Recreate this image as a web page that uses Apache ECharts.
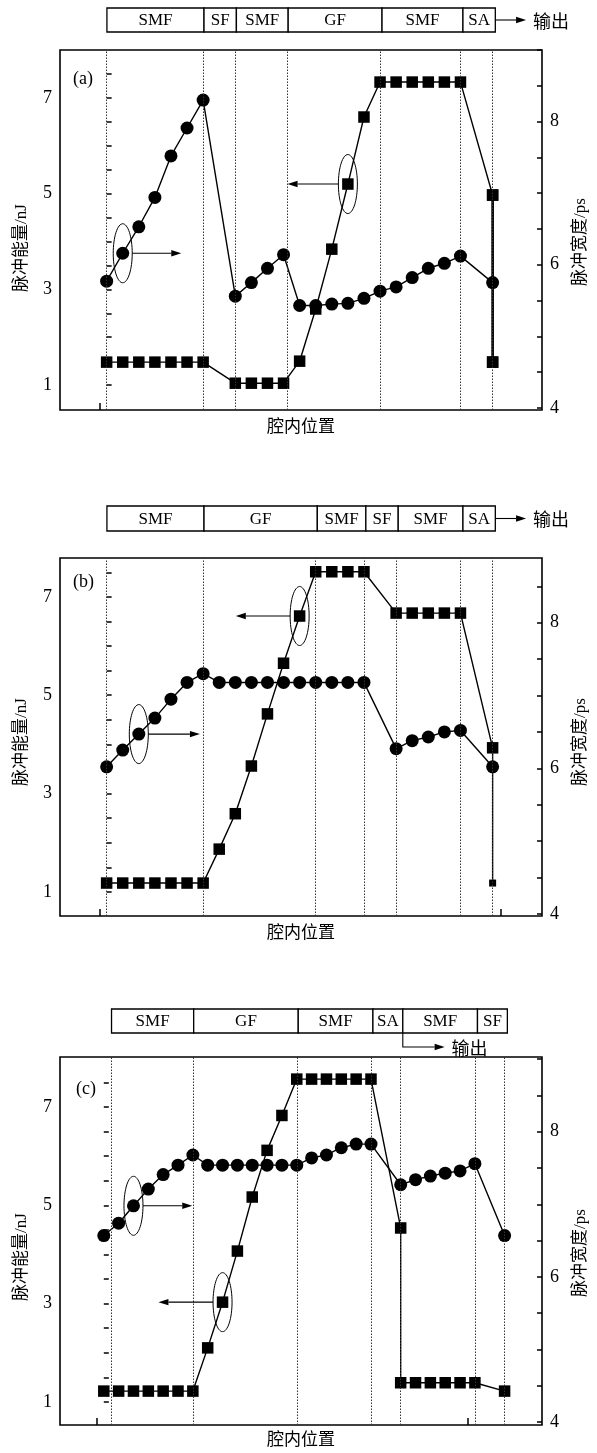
<!DOCTYPE html>
<html><head><meta charset="utf-8">
<script src="https://cdn.jsdelivr.net/npm/echarts@6/dist/echarts.min.js"></script>
<style>html,body{margin:0;padding:0;background:#fff}#c{width:597px;height:1453px}</style>
</head><body><div id="c"></div>
<script>
// ---------- Panel (a) ----------
var aWX = [0,1,2,3,4,5,6,8,9,10,11,12,13,14,15,16,17,18,19,20,21,22,24];
var aWidth = [5.77,6.16,6.53,6.94,7.52,7.91,8.30,5.56,5.75,5.95,6.14,5.43,5.43,5.45,5.46,5.53,5.63,5.69,5.82,5.95,6.02,6.12,5.75];
var aEX = [0,1,2,3,4,5,6,8,9,10,11,12,13,14,15,16,17,18,19,20,21,22,24,24];
var aEnergy = [1.48,1.48,1.48,1.48,1.48,1.48,1.48,1.04,1.04,1.04,1.04,1.50,2.59,3.84,5.20,6.60,7.33,7.33,7.33,7.33,7.33,7.33,4.97,1.48];
var aBounds = [0,6,8,11.2,17,22,24];
var aSegs = ['SMF','SF','SMF','GF','SMF','SA'];

// ---------- Panel (b) ----------
var bWX = [0,1,2,3,4,5,6,7,8,9,10,11,12,13,14,15,16,18,19,20,21,22,24];
var bWidth = [6.02,6.25,6.47,6.69,6.95,7.18,7.30,7.18,7.18,7.18,7.18,7.18,7.18,7.18,7.18,7.18,7.18,6.27,6.38,6.43,6.50,6.52,6.02];
var bEX = [0,1,2,3,4,5,6,7,8,9,10,11,12,13,14,15,16,18,19,20,21,22,24,24];
var bEnergy = [1.18,1.18,1.18,1.18,1.18,1.18,1.18,1.87,2.59,3.56,4.62,5.65,6.61,7.51,7.51,7.51,7.51,6.67,6.67,6.67,6.67,6.67,3.93,1.18];
var bBounds = [0,6,13,16,18,22,24];
var bSegs = ['SMF','GF','SMF','SF','SMF','SA'];

// ---------- Panel (c) ----------
var cWX = [0,1,2,3,4,5,6,7,8,9,10,11,12,13,14,15,16,17,18,20,21,22,23,24,25,27];
var cWidth = [6.57,6.74,6.98,7.21,7.41,7.54,7.68,7.54,7.54,7.54,7.54,7.54,7.54,7.54,7.64,7.68,7.78,7.83,7.83,7.27,7.34,7.39,7.43,7.46,7.56,6.57];
var cEX = [0,1,2,3,4,5,6,7,8,9,10,11,12,13,14,15,16,17,18,20,20,21,22,23,24,25,27];
var cEnergy = [1.22,1.22,1.22,1.22,1.22,1.22,1.22,2.10,3.03,4.07,5.17,6.12,6.83,7.57,7.57,7.57,7.57,7.57,7.57,4.54,1.39,1.39,1.39,1.39,1.39,1.39,1.22];
var cBounds = [0.5,6,13,18,20,25,27];
var cSegs = ['SMF','GF','SMF','SA','SMF','SF'];

// tick labels
var leftTicks = [1,1.5,2,2.5,3,3.5,4,4.5,5,5.5,6,6.5,7,7.5];
var leftLabels = [1,3,5,7];
var rightTicks = [4,4.5,5,5.5,6,6.5,7,7.5,8,8.5,9];
var rightLabels = [4,6,8];

var SERIF = '"Liberation Serif","Times New Roman",serif';
var CJK = '"Liberation Serif","Noto Sans CJK SC",sans-serif';

function zip(xs, ys){ return xs.map(function(x,i){ return [x, ys[i]]; }); }

function xAx(gi, min, max, ticks, gap){
  return {type:'value', gridIndex:gi, min:min, max:max,
    axisLine:{show:false}, splitLine:{show:false},
    axisLabel:{show:false},
    axisTick:{show:true, inside:true, length:7, customValues:ticks, lineStyle:{color:'#000', width:1.5}},
    name:'腔内位置', nameLocation:'middle', nameGap:gap,
    nameTextStyle:{fontFamily:CJK, fontSize:17, color:'#000'}};
}
function yAx(gi, min, max, pos, ticks, labels, name, shift){
  return {type:'value', gridIndex:gi, min:min, max:max, position:pos,
    axisLine:{show:false}, splitLine:{show:false},
    axisTick:{show:true, inside:true, length:5, customValues:ticks, lineStyle:{color:'#000', width:1.5}},
    axisLabel:{customValues:labels, fontFamily:SERIF, fontSize:18, color:'#000', margin:8},
    name:name, nameLocation:'middle', nameRotate:90, nameGap:30,
    nameTextStyle:{fontFamily:CJK, fontSize:17, color:'#000', padding:[0, 2*shift, 0, 0]}};
}
function hiddenX(gi, min, max){ return {type:'value', gridIndex:gi, min:min, max:max, show:false}; }
function hiddenY(gi){ return {type:'value', gridIndex:gi, min:0, max:1, show:false}; }

function lineSeries(xi, yi, data, sym, size, bounds){
  var s = {type:'line', xAxisIndex:xi, yAxisIndex:yi, data:data, symbol:sym, symbolSize:size,
    itemStyle:{color:'#000'}, lineStyle:{color:'#000', width:1.4}, animation:false, z:3};
  if (bounds){
    s.markLine = {silent:true, symbol:'none', label:{show:false}, animation:false,
      lineStyle:{color:'#333', width:1, type:[1.5,1.5]},
      data: bounds.map(function(b){ return {xAxis:b}; })};
  }
  return s;
}

function noteSeries(xi, yi, xs, ys, noteX, endX){
  var y = ys[xs.indexOf(noteX)];
  return {type:'custom', xAxisIndex:xi, yAxisIndex:yi, data:[[noteX, y, endX]], animation:false, z:5, silent:true,
    renderItem:function(params, api){
      var c = api.coord([api.value(0), api.value(1)]);
      var e = api.coord([api.value(2), api.value(1)]);
      var rx = 9.5, ry = 29.5, pts = [];
      for (var i=0;i<64;i++){ var t = i/64*Math.PI*2; pts.push([c[0]+rx*Math.cos(t), c[1]+ry*Math.sin(t)]); }
      var dir = e[0] > c[0] ? 1 : -1, ah = 10, aw = 3.2;
      return {type:'group', children:[
        {type:'polygon', shape:{points:pts}, style:{fill:'none', stroke:'#000', lineWidth:1}},
        {type:'line', shape:{x1:c[0]+dir*rx, y1:c[1], x2:e[0]-dir*ah, y2:c[1]}, style:{stroke:'#000', lineWidth:1.1}},
        {type:'polygon', shape:{points:[[e[0],c[1]],[e[0]-dir*ah,c[1]-aw],[e[0]-dir*ah,c[1]+aw]]}, style:{fill:'#000'}}
      ]};
    }};
}

function boxSeries(xi, yi, bounds, segs){
  var data = segs.map(function(s,i){ return [bounds[i], bounds[i+1]]; });
  return {type:'custom', xAxisIndex:xi, yAxisIndex:yi, data:data, animation:false, silent:true,
    renderItem:function(params, api){
      var p0 = api.coord([api.value(0), 1]), p1 = api.coord([api.value(1), 0]);
      return {type:'group', children:[
        {type:'rect', shape:{x:p0[0], y:p0[1], width:p1[0]-p0[0], height:p1[1]-p0[1]}, style:{fill:'#fff', stroke:'#000', lineWidth:1.3}},
        {type:'text', style:{text:segs[params.dataIndex], x:(p0[0]+p1[0])/2, y:(p0[1]+p1[1])/2+1, align:'center', verticalAlign:'middle', fontFamily:SERIF, fontSize:17, fill:'#000'}}
      ]};
    }};
}

function outSeries(xi, yi, fromX, toX, below){
  return {type:'custom', xAxisIndex:xi, yAxisIndex:yi, data:[[fromX, toX]], animation:false, silent:true, z:4,
    renderItem:function(params, api){
      var ah = 10, aw = 3.2, ch = [];
      var p0, p1, y;
      if (below){
        p0 = api.coord([api.value(0), 0]); p1 = api.coord([api.value(1), 0]);
        y = p0[1] + 14;
        ch.push({type:'polyline', shape:{points:[[p0[0],p0[1]],[p0[0],y],[p1[0]-ah,y]]}, style:{stroke:'#000', fill:'none', lineWidth:1.1}});
      } else {
        p0 = api.coord([api.value(0), 0.5]); p1 = api.coord([api.value(1), 0.5]);
        y = p0[1];
        ch.push({type:'line', shape:{x1:p0[0], y1:y, x2:p1[0]-ah, y2:y}, style:{stroke:'#000', lineWidth:1.1}});
      }
      ch.push({type:'polygon', shape:{points:[[p1[0],y],[p1[0]-ah,y-aw],[p1[0]-ah,y+aw]]}, style:{fill:'#000'}});
      ch.push({type:'text', style:{text:'输出', x:p1[0]+7, y:y+1, align:'left', verticalAlign:'middle', fontFamily:'"Noto Sans CJK SC",sans-serif', fontSize:18, fill:'#000'}});
      return {type:'group', children:ch};
    }};
}

var gridStyle = {show:true, borderColor:'#000', borderWidth:1.6, backgroundColor:'transparent'};
var option = {
  animation:false,
  backgroundColor:'#fff',
  grid:[
    Object.assign({left:60, right:52, top:50, height:360}, gridStyle),
    Object.assign({left:60, right:52, top:558, height:358}, gridStyle),
    Object.assign({left:60, right:52, top:1057, height:368}, gridStyle),
    {left:60, right:52, top:8, height:24},
    {left:60, right:52, top:506, height:25},
    {left:60, right:52, top:1009, height:24}
  ],
  xAxis:[
    xAx(0, -2.9, 27.07, [-0.43], 9),
    xAx(1, -2.9, 27.07, [-0.43, 24.53], 9),
    xAx(2, -2.95, 29.52, [-0.47, 24.5], 7),
    hiddenX(3, -2.9, 27.07),
    hiddenX(4, -2.9, 27.07),
    hiddenX(5, -2.95, 29.52)
  ],
  yAxis:[
    yAx(0, 0.48, 8.0, 'left', leftTicks, leftLabels, '脉冲能量/nJ', 18),
    yAx(0, 3.97, 9.0, 'right', rightTicks, rightLabels, '脉冲宽度/ps', 12),
    yAx(1, 0.51, 7.79, 'left', leftTicks, leftLabels, '脉冲能量/nJ', 5),
    yAx(1, 3.97, 8.89, 'right', rightTicks, rightLabels, '脉冲宽度/ps', 5),
    yAx(2, 0.53, 8.02, 'left', leftTicks, leftLabels, '脉冲能量/nJ', 16),
    yAx(2, 3.96, 9.03, 'right', rightTicks, rightLabels, '脉冲宽度/ps', 12),
    hiddenY(3), hiddenY(4), hiddenY(5)
  ],
  graphic:[
    {type:'text', left:73, top:70, style:{text:'(a)', fontFamily:SERIF, fontSize:18, fill:'#000'}},
    {type:'text', left:73, top:573, style:{text:'(b)', fontFamily:SERIF, fontSize:18, fill:'#000'}},
    {type:'text', left:76, top:1080, style:{text:'(c)', fontFamily:SERIF, fontSize:18, fill:'#000'}}
  ],
  series:[
    // (a)
    lineSeries(0, 1, zip(aWX, aWidth), 'circle', 13, aBounds),
    lineSeries(0, 0, zip(aEX, aEnergy), 'rect', 11.5),
    Object.assign(lineSeries(0, 0, zip(aEX.slice(-2), aEnergy.slice(-2)), 'rect', 11.5), {lineStyle:{color:'#000', width:2.6}}),
    noteSeries(0, 1, aWX, aWidth, 1, 4.64),
    noteSeries(0, 0, aEX, aEnergy, 15, 11.25),
    boxSeries(3, 6, aBounds, aSegs),
    outSeries(3, 6, 24, 25.9, false),
    // (b)
    lineSeries(1, 3, zip(bWX, bWidth), 'circle', 13, bBounds),
    Object.assign(lineSeries(1, 2, zip(bEX, bEnergy), 'rect', 11.5), {symbolSize:function(v, p){ return p.dataIndex === bEX.length-1 ? 7 : 11.5; }}),
    noteSeries(1, 3, bWX, bWidth, 2, 5.8),
    noteSeries(1, 2, bEX, bEnergy, 12, 8.03),
    boxSeries(4, 7, bBounds, bSegs),
    outSeries(4, 7, 24, 25.9, false),
    // (c)
    lineSeries(2, 5, zip(cWX, cWidth), 'circle', 13, cBounds),
    lineSeries(2, 4, zip(cEX, cEnergy), 'rect', 11.5),
    noteSeries(2, 5, cWX, cWidth, 2, 5.96),
    noteSeries(2, 4, cEX, cEnergy, 8, 3.68),
    boxSeries(5, 8, cBounds, cSegs),
    outSeries(5, 8, 20, 22.8, true)
  ]
};
var chart = echarts.init(document.getElementById('c'), null, {renderer:'canvas'});
chart.setOption(option);
</script>
</body></html>
